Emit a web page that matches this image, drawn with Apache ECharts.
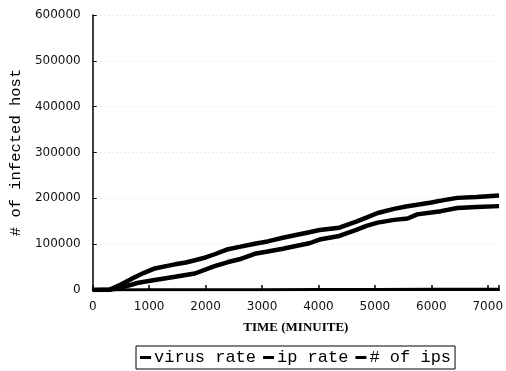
<!DOCTYPE html>
<html>
<head>
<meta charset="utf-8">
<script src="https://cdn.jsdelivr.net/npm/echarts@6/dist/echarts.min.js"></script>
<style>html,body{margin:0;padding:0;background:#fff;}#c{width:506px;height:371px;}</style>
</head>
<body>
<div id="c"></div>
<script>
var seriesNames = ['virus rate', 'ip rate', '# of ips'];
var virusT = [0,300,500,700,900,1100,1300,1460,1650,1810,2000,2160,2400,2600,2870,3100,3370,3600,3840,4020,4370,4670,4850,5050,5340,5550,5750,6000,6170,6460,6800,7200];
var virusV = [0,1000,12000,25000,37000,47000,52000,56000,60000,65000,71000,78000,89000,94000,101000,106000,114000,120000,126000,131000,136000,149000,158000,168000,177000,182000,186000,191000,195000,201000,203000,206000];
var ipT = [0,300,500,700,810,1100,1460,1810,2160,2400,2600,2870,3100,3370,3600,3840,4020,4370,4670,4850,5050,5340,5580,5750,6000,6170,6460,6800,7200];
var ipV = [0,500,5000,12000,16000,22000,29000,36000,52000,61000,67000,79000,84000,90000,96000,102000,110000,118000,131000,140000,147000,153000,156000,165000,169000,172000,179000,181000,183000];
var ipsT = [0,1000,2000,3000,4000,5000,6000,7200];
var ipsV = [0,300,500,800,1000,1200,1500,1800];
var yTicks = [0,100000,200000,300000,400000,500000,600000];
var xTicks = [0,1000,2000,3000,4000,5000,6000,7000];

function pairs(t, v){ return t.map(function(x,i){ return [x, v[i]]; }); }

var chart = echarts.init(document.getElementById('c'), null, {renderer:'canvas'});
chart.setOption({
  animation: false,
  backgroundColor: '#fff',
  grid: {left: 92, right: 6, top: 15, bottom: 81, containLabel: false},
  legend: {
    data: seriesNames,
    left: 136, top: 346,
    orient: 'horizontal',
    borderColor: '#000', borderWidth: 1,
    padding: [3, 4, 3, 4],
    itemGap: 7,
    itemWidth: 11, itemHeight: 3,
    icon: 'rect',
    itemStyle: {color: '#000'},
    textStyle: {fontFamily: 'Liberation Mono', fontSize: 17, color: '#000', padding: [0,0,0,-2]}
  },
  xAxis: {
    type: 'value', min: 0, max: 7200, interval: 1000,
    name: 'TIME (MINUITE)', nameLocation: 'middle', nameGap: 31,
    nameTextStyle: {fontFamily: 'Liberation Serif', fontSize: 13, color: '#000', fontWeight: 'bold'},
    axisLine: {lineStyle: {color: '#000', width: 2}},
    axisTick: {inside: true, length: 5, lineStyle: {color: '#000', width: 1.5}},
    axisLabel: {fontFamily: 'DejaVu Sans', fontSize: 12, color: '#111', margin: 11,
      formatter: function(v){ return xTicks.indexOf(v) >= 0 ? String(v) : ''; }},
    splitLine: {show: false}
  },
  yAxis: {
    type: 'value', min: 0, max: 600000, interval: 100000,
    name: '# of infected host', nameLocation: 'middle', nameGap: 68,
    nameTextStyle: {fontFamily: 'Liberation Mono', fontSize: 15.5, color: '#000'},
    axisLine: {show: true, lineStyle: {color: '#000', width: 1.5}},
    axisTick: {show: true, inside: true, length: 4, lineStyle: {color: '#000'}},
    axisLabel: {fontFamily: 'DejaVu Sans', fontSize: 12, color: '#111', margin: 12,
      formatter: function(v){ return yTicks.indexOf(v) >= 0 ? String(v) : ''; }},
    splitLine: {show: true, lineStyle: {color: '#c8c8c8', width: 1, type: [1, 7]}}
  },
  series: [
    {name: seriesNames[0], type: 'line', data: pairs(virusT, virusV), showSymbol: false, symbol: 'none',
      lineStyle: {color: '#000', width: 4.5}, itemStyle: {color: '#000'}},
    {name: seriesNames[1], type: 'line', data: pairs(ipT, ipV), showSymbol: false, symbol: 'none',
      lineStyle: {color: '#000', width: 4.5}, itemStyle: {color: '#000'}},
    {name: seriesNames[2], type: 'line', data: pairs(ipsT, ipsV), showSymbol: false, symbol: 'none',
      lineStyle: {color: '#000', width: 3}, itemStyle: {color: '#000'}}
  ]
});
</script>
</body>
</html>
